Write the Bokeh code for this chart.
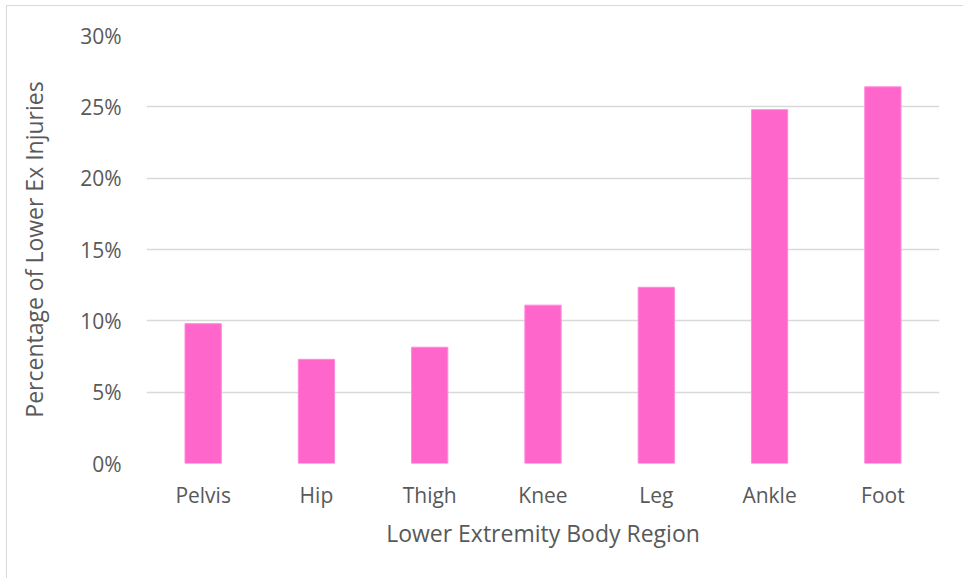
from bokeh.plotting import figure
from bokeh.models import NumeralTickFormatter, FixedTicker, ColumnDataSource
from bokeh.embed import file_html
from bokeh.resources import INLINE

categories = ["Pelvis", "Hip", "Thigh", "Knee", "Leg", "Ankle", "Foot"]
values = [0.098, 0.073, 0.0815, 0.111, 0.1235, 0.248, 0.264]
y_ticks = [0, 0.05, 0.10, 0.15, 0.20, 0.25, 0.30]

FONT = "Open Sans"
TXT = "#595959"

src = ColumnDataSource(dict(cat=categories, val=values))

p = figure(x_range=categories, y_range=(0, 0.30), width=957, height=573,
           output_backend="svg", toolbar_location=None,
           min_border_left=139, min_border_right=25, min_border_top=29, min_border_bottom=116)
p.vbar(x="cat", top="val", width=0.32, source=src, fill_color="#FF66CC", line_color="#FF88DD", line_width=1)

p.outline_line_color = None
p.styles = {"border-left": "1px solid #d9d9d9", "border-top": "1px solid #d9d9d9",
            "margin-left": "6px", "margin-top": "5px"}

p.xgrid.grid_line_color = None
p.ygrid.grid_line_color = "#d9d9d9"
p.ygrid.grid_line_width = 1.5

p.yaxis.ticker = FixedTicker(ticks=y_ticks)
p.yaxis.formatter = NumeralTickFormatter(format="0%")
for ax in (p.xaxis[0], p.yaxis[0]):
    ax.axis_line_color = None
    ax.major_tick_line_color = None
    ax.minor_tick_line_color = None
    ax.major_label_text_font = FONT
    ax.major_label_text_color = TXT
    ax.major_label_text_font_size = "21px"
    ax.axis_label_text_font = FONT
    ax.axis_label_text_color = TXT
    ax.axis_label_text_font_size = "23px"
    ax.axis_label_text_font_style = "normal"

p.xaxis.axis_label = "Lower Extremity Body Region"
p.yaxis.axis_label = "Percentage of Lower Ex Injuries"
p.yaxis.major_label_standoff = 19
p.xaxis.major_label_standoff = 11
p.xaxis.axis_label_standoff = 5
p.yaxis.axis_label_standoff = 27

open("out.html", "w").write(file_html(p, INLINE))
